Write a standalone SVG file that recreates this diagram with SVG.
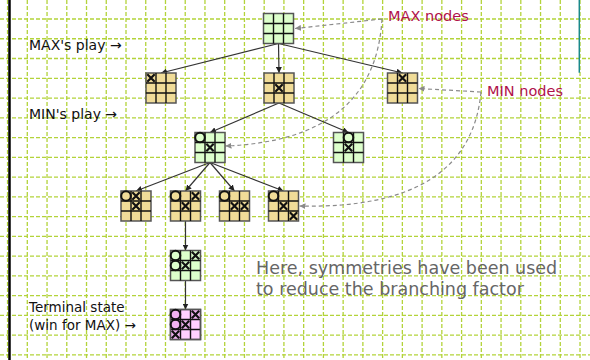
<svg xmlns="http://www.w3.org/2000/svg" xmlns:xlink="http://www.w3.org/1999/xlink" width="590" height="360" viewBox="0 0 590 360">
<style>
.gridl{fill:none;stroke:#b3d33a;stroke-width:1.3;stroke-dasharray:4 2}
.bd{stroke:#555;stroke-width:1.5}
.yel{fill:#f0dc98}
.grn{fill:#ddffcc}
.pnk{fill:#ffd0ff}
.pk2{fill:#f2b2f2}
.edge{fill:none;stroke:#333;stroke-width:1.2}
.ptr{fill:none;stroke:#8a8a8a;stroke-width:1.2;stroke-dasharray:4 3}
.lbl{font-family:"DejaVu Sans",sans-serif;fill:#111}
.red{font-family:"DejaVu Sans",sans-serif;fill:#b0124a;font-size:14.5px}
.note{font-family:"DejaVu Sans",sans-serif;fill:#666;font-size:17.5px}
</style>
<defs>
<path id="g3" d="M10,0V30M20,0V30M0,10H30M0,20H30" stroke="#111" stroke-width="1.4" fill="none"/>
<path id="xm" d="M1.3,1.3L8.7,8.7M8.7,1.3L1.3,8.7" stroke="#111" stroke-width="2.2" fill="none"/>
<circle id="om" cx="5" cy="5" r="4.8" stroke="#111" stroke-width="2" fill="none"/>
<marker id="ah" viewBox="0 0 10 10" refX="10" refY="5" markerWidth="6" markerHeight="6" markerUnits="userSpaceOnUse" orient="auto">
<path d="M0,0L10,5L0,10z" fill="#222"/>
</marker>
<marker id="ahg" viewBox="0 0 10 10" refX="10" refY="5" markerWidth="6" markerHeight="6" markerUnits="userSpaceOnUse" orient="auto">
<path d="M0,0L10,5L0,10z" fill="#8a8a8a"/>
</marker>
</defs>
<rect width="590" height="360" fill="#fff"/>
<g id="background-grid">
<path class="gridl" d="M7.56,0V360M27.3,0V360M47.04,0V360M66.78,0V360M86.52,0V360M106.26,0V360M126,0V360M145.74,0V360M165.48,0V360M185.22,0V360M204.96,0V360M224.7,0V360M244.44,0V360M264.18,0V360M283.92,0V360M303.66,0V360M323.4,0V360M343.14,0V360M362.88,0V360M382.62,0V360M402.36,0V360M422.1,0V360M441.84,0V360M461.58,0V360M481.32,0V360M501.06,0V360M520.8,0V360M540.54,0V360M560.28,0V360M580.02,0V360"/>
<path class="gridl" d="M0,19H590M0,38.76H590M0,58.52H590M0,78.28H590M0,98.04H590M0,117.8H590M0,137.56H590M0,157.32H590M0,177.08H590M0,196.84H590M0,216.6H590M0,236.36H590M0,256.12H590M0,275.88H590M0,295.64H590M0,315.4H590M0,335.16H590M0,354.92H590"/>
<line x1="9.5" y1="0" x2="9.5" y2="360" stroke="#000" stroke-width="2.5"/>
<line x1="579.3" y1="0" x2="579.3" y2="72.7" stroke="#1a8a8a" stroke-width="1.5"/>
</g>
<g id="connectors">
<path class="edge" marker-end="url(#ah)" d="M278.5,43.5L161,73"/>
<path class="edge" marker-end="url(#ah)" d="M278.5,43.5L279,73"/>
<path class="edge" marker-end="url(#ah)" d="M278.5,43.5L402.5,73"/>
<path class="edge" marker-end="url(#ah)" d="M279,103L210,132.5"/>
<path class="edge" marker-end="url(#ah)" d="M279,103L348.5,132.5"/>
<path class="edge" marker-end="url(#ah)" d="M210,162.5L136,191"/>
<path class="edge" marker-end="url(#ah)" d="M210,162.5L185.5,191"/>
<path class="edge" marker-end="url(#ah)" d="M210,162.5L234.5,191"/>
<path class="edge" marker-end="url(#ah)" d="M210,162.5L283.5,191"/>
<path class="edge" marker-end="url(#ah)" d="M185.5,221L185.5,250.5"/>
<path class="edge" marker-end="url(#ah)" d="M185.5,280.5L185.5,309.5"/>
<path class="ptr" marker-end="url(#ahg)" d="M382,19L295,28.5"/>
<path class="ptr" marker-end="url(#ahg)" d="M382,19Q375,140 225.5,146"/>
<path class="ptr" marker-end="url(#ahg)" d="M481,92L418.5,88.5"/>
<path class="ptr" marker-end="url(#ahg)" d="M481,92Q470,210 299.5,206"/>
</g>
<g id="node-root" transform="translate(263.5,13.5)">
<rect class="grn bd" width="30" height="30"/><use href="#g3"/>
</g>
<g id="node-max1" transform="translate(146,73)">
<rect class="yel bd" width="30" height="30"/><use href="#g3"/>
<use href="#xm" x="0" y="0"/>
</g>
<g id="node-max2" transform="translate(264,73)">
<rect class="yel bd" width="30" height="30"/><use href="#g3"/>
<use href="#xm" x="10" y="10"/>
</g>
<g id="node-max3" transform="translate(387.5,73)">
<rect class="yel bd" width="30" height="30"/><use href="#g3"/>
<use href="#xm" x="10" y="0"/>
</g>
<g id="node-min1" transform="translate(195,132.5)">
<rect class="grn bd" width="30" height="30"/><use href="#g3"/>
<use href="#om" x="0" y="0"/><use href="#xm" x="10" y="10"/>
</g>
<g id="node-min2" transform="translate(333.5,132.5)">
<rect class="grn bd" width="30" height="30"/><use href="#g3"/>
<use href="#om" x="10" y="0"/><use href="#xm" x="10" y="10"/>
</g>
<g id="node-a" transform="translate(121,191)">
<rect class="yel bd" width="30" height="30"/><use href="#g3"/>
<use href="#om" x="0" y="0"/><use href="#xm" x="10" y="0"/><use href="#xm" x="10" y="10"/>
</g>
<g id="node-b" transform="translate(170.5,191)">
<rect class="yel bd" width="30" height="30"/><use href="#g3"/>
<use href="#om" x="0" y="0"/><use href="#xm" x="20" y="0"/><use href="#xm" x="10" y="10"/>
</g>
<g id="node-c" transform="translate(219.5,191)">
<rect class="yel bd" width="30" height="30"/><use href="#g3"/>
<use href="#om" x="0" y="0"/><use href="#xm" x="10" y="10"/><use href="#xm" x="20" y="10"/>
</g>
<g id="node-d" transform="translate(268.5,191)">
<rect class="yel bd" width="30" height="30"/><use href="#g3"/>
<use href="#om" x="0" y="0"/><use href="#xm" x="10" y="10"/><use href="#xm" x="20" y="20"/>
</g>
<g id="node-e" transform="translate(170.5,250.5)">
<rect class="grn bd" width="30" height="30"/><use href="#g3"/>
<use href="#om" x="0" y="0"/><use href="#xm" x="20" y="0"/><use href="#om" x="0" y="10"/><use href="#xm" x="10" y="10"/>
</g>
<g id="node-terminal" transform="translate(170.5,309.5)">
<rect class="pnk bd" width="30" height="30"/>
<rect class="pk2" x="0" y="0" width="10" height="10"/><rect class="pk2" x="20" y="0" width="10" height="10"/><rect class="pk2" x="0" y="10" width="10" height="10"/><rect class="pk2" x="10" y="10" width="10" height="10"/><rect class="pk2" x="0" y="20" width="10" height="10"/>
<use href="#g3"/>
<rect width="30" height="30" fill="none" class="bd"/>
<use href="#om" x="0" y="0"/><use href="#xm" x="20" y="0"/><use href="#om" x="0" y="10"/><use href="#xm" x="10" y="10"/><use href="#xm" x="0" y="20"/>
</g>
<g id="labels">
<text class="lbl" x="29" y="50" font-size="14">MAX's play →</text>
<text class="lbl" x="29" y="119" font-size="14">MIN's play →</text>
<text class="lbl" x="29" y="311.5" font-size="13.5">Terminal state</text>
<text class="lbl" x="29" y="330" font-size="13.5">(win for MAX) →</text>
<text class="red" x="388" y="21">MAX nodes</text>
<text class="red" x="487" y="95.5">MIN nodes</text>
<text class="note" x="256" y="274">Here, symmetries have been used</text>
<text class="note" x="256" y="295">to reduce the branching factor</text>
</g>
</svg>
